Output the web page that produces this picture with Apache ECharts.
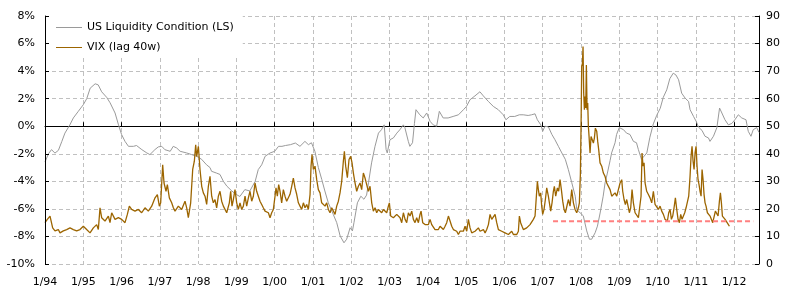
<!DOCTYPE html>
<html><head><meta charset="utf-8">
<script src="https://cdn.jsdelivr.net/npm/echarts@6/dist/echarts.min.js"></script>
<style>html,body{margin:0;padding:0;background:#fff}#c{width:792px;height:302px}</style>
</head><body><div id="c"></div>
<script>
// US Liquidity Condition (%), [decimal year, value]
const liquidity = [
[1994.00,-2.6],[1994.09,-2.0],[1994.17,-1.7],[1994.26,-1.95],[1994.35,-1.75],[1994.44,-1.1],[1994.52,-0.5],[1994.65,0.1],[1994.74,0.6],[1994.87,1.08],
[1995.00,1.56],[1995.09,2.0],[1995.18,2.76],[1995.31,3.08],[1995.39,3.0],[1995.48,2.5],[1995.61,2.1],[1995.70,1.7],[1995.83,0.96],[1995.92,0.1],
[1996.00,-0.6],[1996.09,-1.1],[1996.18,-1.46],[1996.31,-1.46],[1996.39,-1.4],[1996.53,-1.7],[1996.66,-1.94],[1996.74,-2.06],[1996.87,-1.7],[1996.96,-1.5],
[1997.05,-1.46],[1997.13,-1.7],[1997.27,-1.82],[1997.35,-1.46],[1997.44,-1.58],[1997.53,-1.82],[1997.70,-1.94],[1997.83,-2.06],[1997.96,-2.18],
[1998.09,-2.4],[1998.22,-2.8],[1998.31,-3.0],[1998.35,-3.27],[1998.48,-3.4],[1998.57,-3.5],[1998.66,-4.0],[1998.75,-4.35],[1998.88,-4.7],
[1999.00,-4.96],[1999.09,-5.1],[1999.22,-4.6],[1999.35,-4.7],[1999.49,-4.0],[1999.57,-3.15],[1999.66,-2.8],[1999.75,-2.18],[1999.88,-1.94],
[2000.00,-1.82],[2000.10,-1.46],[2000.19,-1.46],[2000.28,-1.4],[2000.41,-1.34],[2000.54,-1.22],[2000.66,-1.46],[2000.79,-1.1],[2000.88,-1.34],[2000.96,-1.2],
[2001.05,-1.82],[2001.14,-3.0],[2001.23,-3.87],[2001.31,-4.7],[2001.40,-5.56],[2001.53,-6.4],[2001.62,-7.0],[2001.71,-7.97],[2001.81,-8.46],[2001.88,-8.2],[2001.97,-7.37],
[2002.03,-7.6],[2002.07,-7.0],[2002.16,-5.56],[2002.25,-5.08],[2002.33,-5.3],[2002.40,-5.0],[2002.45,-4.1],[2002.53,-2.66],[2002.62,-1.46],[2002.71,-0.5],[2002.79,-0.25],[2002.86,0.1],[2002.91,-1.7],[2002.94,-1.94],
[2003.01,-0.98],[2003.10,-0.85],[2003.19,-0.5],[2003.27,-0.25],[2003.36,0.1],[2003.40,-0.1],[2003.49,-1.1],[2003.53,-1.46],[2003.60,-1.2],[2003.65,0.2],[2003.69,1.2],[2003.79,0.83],[2003.88,0.6],[2003.97,0.96],
[2004.06,0.35],[2004.14,0.1],[2004.23,0.0],[2004.30,1.08],[2004.40,0.6],[2004.53,0.6],[2004.66,0.71],[2004.80,0.83],[2004.93,1.2],
[2005.01,1.44],[2005.10,1.92],[2005.23,2.2],[2005.36,2.5],[2005.45,2.2],[2005.58,1.8],[2005.71,1.44],[2005.84,1.2],[2005.97,0.83],
[2006.04,0.47],[2006.14,0.71],[2006.27,0.71],[2006.39,0.83],[2006.49,0.83],[2006.62,0.78],[2006.71,0.83],[2006.80,0.9],[2006.86,0.47],[2006.95,0.1],
[2007.00,-0.37],[2007.06,0.0],[2007.15,-0.05],[2007.24,-0.6],[2007.32,-0.98],[2007.41,-1.46],[2007.50,-1.94],[2007.59,-2.4],[2007.67,-3.15],[2007.76,-4.1],[2007.85,-5.08],[2007.89,-6.04],[2007.98,-6.3],
[2008.06,-6.5],[2008.15,-7.6],[2008.22,-8.2],[2008.28,-8.2],[2008.37,-7.73],[2008.43,-7.25],[2008.50,-6.3],[2008.58,-5.08],[2008.63,-4.1],[2008.69,-3.4],[2008.76,-2.5],[2008.80,-1.94],[2008.89,-1.2],[2008.93,-0.6],
[2009.00,-0.1],[2009.11,-0.25],[2009.19,-0.5],[2009.28,-0.6],[2009.37,-1.1],[2009.45,-1.2],[2009.50,-1.7],[2009.58,-2.4],[2009.63,-2.3],[2009.72,-1.94],[2009.80,-0.8],[2009.89,0.17],[2009.98,0.8],
[2010.07,1.3],[2010.15,2.1],[2010.24,2.64],[2010.32,3.45],[2010.41,3.85],[2010.48,3.72],[2010.55,3.37],[2010.63,2.4],[2010.72,2.04],[2010.81,1.8],[2010.85,1.2],[2010.94,0.71],
[2011.01,0.35],[2011.07,-0.07],[2011.16,-0.3],[2011.24,-0.73],[2011.33,-0.85],[2011.37,-1.1],[2011.46,-0.73],[2011.55,-0.1],[2011.62,1.32],[2011.68,0.96],[2011.76,0.47],[2011.85,0.1],[2011.94,0.2],
[2012.02,0.47],[2012.11,0.83],[2012.20,0.6],[2012.31,0.47],[2012.37,-0.37],[2012.44,-0.73],[2012.50,-0.25],[2012.59,-0.1],[2012.65,-0.45]
];

// VIX lagged 40 weeks, [decimal year, value]
const vix = [
[1994.000,15.0],[1994.026,14.4],[1994.061,16.2],[1994.131,17.4],[1994.200,13.1],[1994.261,12.0],[1994.348,12.5],[1994.392,11.3],[1994.479,12.0],[1994.566,12.5],[1994.653,13.1],[1994.740,12.5],[1994.827,12.0],[1994.914,12.5],
[1995.001,13.7],[1995.045,14.3],[1995.088,12.5],[1995.176,11.3],[1995.263,13.1],[1995.350,14.3],[1995.393,12.5],[1995.437,20.4],[1995.480,16.8],[1995.567,15.6],[1995.655,17.4],[1995.698,15.0],[1995.742,18.6],[1995.829,16.2],[1995.916,16.8],
[1996.003,16.2],[1996.090,15.0],[1996.151,18.0],[1996.203,21.0],[1996.264,19.8],[1996.351,19.2],[1996.438,19.8],[1996.525,18.6],[1996.612,20.4],[1996.699,19.2],[1996.787,21.0],[1996.874,24.0],[1996.935,25.2],[1996.987,21.0],
[1997.022,22.2],[1997.074,36.0],[1997.109,29.4],[1997.161,26.4],[1997.196,28.8],[1997.248,24.0],[1997.309,22.2],[1997.353,20.4],[1997.396,19.2],[1997.483,21.0],[1997.570,19.8],[1997.657,22.8],[1997.701,20.4],[1997.744,16.8],[1997.771,16.2],[1997.805,22.2],[1997.858,34.3],[1997.901,37.3],[1997.936,43.3],[1997.962,39.0],
[1998.006,42.7],[1998.049,34.3],[1998.093,28.2],[1998.136,25.8],[1998.180,24.6],[1998.223,21.6],[1998.267,28.2],[1998.310,31.8],
[1998.354,24.6],[1998.397,22.2],[1998.441,23.4],[1998.484,20.4],[1998.528,24.6],[1998.571,26.4],[1998.615,22.8],[1998.659,21.0],[1998.702,21.6],[1998.746,18.6],[1998.789,18.0],[1998.815,22.2],[1998.850,26.4],[1998.885,21.0],[1998.920,23.4],[1998.963,27.0],
[1999.007,22.2],[1999.050,19.8],[1999.094,22.2],[1999.137,19.8],[1999.181,21.0],[1999.225,24.6],[1999.268,21.0],[1999.312,24.0],[1999.355,26.4],[1999.399,22.8],[1999.442,24.6],[1999.486,29.4],[1999.529,26.4],[1999.573,27.0],[1999.616,22.8],[1999.660,21.6],[1999.703,20.4],[1999.747,19.2],[1999.791,19.8],[1999.834,18.6],[1999.878,16.8],[1999.921,18.6],[1999.965,19.8],
[2000.008,24.6],[2000.034,27.6],[2000.069,24.6],[2000.104,28.8],[2000.139,26.4],[2000.182,22.2],[2000.226,27.0],[2000.269,24.6],[2000.313,22.8],[2000.357,22.2],[2000.400,25.3],[2000.444,28.2],[2000.487,31.2],[2000.531,27.6],[2000.574,25.3],[2000.618,22.2],[2000.661,21.0],[2000.705,19.8],[2000.749,22.2],[2000.792,20.4],[2000.836,21.6],[2000.879,19.8],[2000.923,25.2],[2000.949,35.5],[2000.975,39.7],
[2001.010,34.3],[2001.053,35.5],[2001.097,30.6],[2001.140,27.0],[2001.184,25.8],[2001.227,22.2],[2001.271,22.8],[2001.315,21.0],[2001.358,22.2],[2001.402,19.8],[2001.445,18.6],[2001.489,20.4],[2001.532,19.8],[2001.576,18.0],[2001.619,21.0],[2001.663,22.8],[2001.706,25.8],[2001.750,30.0],[2001.793,37.3],[2001.820,40.9],[2001.854,35.5],[2001.898,31.3],[2001.941,37.9],[2001.985,39.1],
[2002.020,36.7],[2002.055,33.0],[2002.098,29.4],[2002.142,26.4],[2002.185,28.2],[2002.229,29.4],[2002.272,27.0],[2002.316,33.0],[2002.359,31.2],[2002.403,28.8],[2002.446,26.4],[2002.490,28.2],
[2002.534,22.2],[2002.577,19.2],[2002.621,20.4],[2002.664,18.6],[2002.708,19.8],[2002.751,20.4],[2002.795,18.6],[2002.839,19.8],[2002.882,19.2],[2002.926,18.6],[2002.969,21.0],[2002.995,22.2],
[2003.030,17.4],[2003.065,16.8],[2003.100,16.8],[2003.143,17.4],[2003.187,18.0],[2003.230,18.6],[2003.274,16.8],[2003.318,15.0],[2003.361,18.6],[2003.405,16.2],[2003.448,15.0],[2003.492,18.6],[2003.535,17.4],[2003.579,19.2],[2003.622,16.2],[2003.666,15.0],[2003.709,16.8],[2003.753,15.0],[2003.796,18.0],[2003.823,19.2],[2003.866,15.0],[2003.927,14.3],[2003.971,13.7],
[2004.014,14.3],[2004.058,16.2],[2004.101,14.3],[2004.145,13.7],[2004.188,12.5],[2004.232,13.1],[2004.275,12.5],[2004.319,13.7],[2004.363,13.1],[2004.406,12.5],[2004.450,13.7],[2004.493,15.0],[2004.537,17.4],[2004.580,15.6],[2004.624,13.7],[2004.667,12.5],[2004.711,13.1],[2004.754,11.9],[2004.798,10.7],[2004.841,11.9],[2004.885,12.5],[2004.929,11.9],[2004.972,13.7],
[2005.016,11.9],[2005.059,16.2],[2005.103,13.1],[2005.146,11.3],[2005.190,10.7],[2005.233,11.9],[2005.277,12.5],[2005.320,13.1],[2005.364,11.9],[2005.407,11.9],[2005.451,12.5],[2005.495,11.3],[2005.538,12.5],[2005.582,14.3],[2005.625,18.0],[2005.669,16.2],[2005.712,16.8],[2005.756,18.0],[2005.799,15.0],[2005.843,12.5],[2005.886,13.1],[2005.930,11.9],[2005.973,12.5],
[2006.017,11.3],[2006.060,10.7],[2006.104,10.7],[2006.147,11.3],[2006.191,11.9],[2006.235,10.7],[2006.278,11.3],[2006.322,10.7],[2006.365,11.9],[2006.391,17.4],
[2006.426,14.9],[2006.460,13.7],[2006.495,12.5],[2006.539,13.1],[2006.582,13.1],[2006.626,13.7],[2006.669,14.3],[2006.713,14.9],[2006.757,16.2],[2006.800,17.4],[2006.826,22.8],[2006.861,30.0],[2006.887,27.0],[2006.913,24.6],[2006.948,25.8],[2006.974,21.0],
[2007.000,18.0],[2007.035,19.8],[2007.070,23.4],[2007.105,27.6],[2007.148,24.6],[2007.175,22.2],[2007.209,19.2],[2007.244,22.2],[2007.279,26.4],[2007.305,28.2],[2007.340,24.6],[2007.384,27.6],[2007.418,26.4],[2007.453,30.6],[2007.488,27.0],[2007.523,22.8],[2007.558,19.8],[2007.593,18.6],[2007.627,19.2],[2007.671,23.4],[2007.714,21.0],[2007.758,27.0],[2007.802,22.2],[2007.845,19.8],[2007.889,18.6],[2007.932,20.4],[2007.958,22.2],[2007.984,32.4],
[2008.002,50.0],[2008.019,71.6],[2008.037,72.8],[2008.054,78.9],[2008.071,62.0],[2008.089,56.0],[2008.106,60.8],[2008.124,56.6],[2008.141,72.2],[2008.159,56.0],[2008.176,58.4],[2008.193,50.0],[2008.211,46.3],[2008.237,40.3],[2008.263,46.3],[2008.289,46.9],[2008.324,43.9],[2008.350,45.7],[2008.376,49.3],[2008.411,48.2],[2008.437,44.5],[2008.463,41.5],[2008.498,36.7],[2008.542,35.5],[2008.585,33.0],[2008.629,31.8],[2008.672,29.4],[2008.716,28.8],[2008.760,27.0],[2008.803,24.6],[2008.847,25.2],[2008.890,25.8],[2008.934,24.6],[2008.977,27.0],
[2009.021,29.4],[2009.064,30.6],[2009.090,26.4],[2009.125,23.4],[2009.160,21.6],[2009.195,23.4],[2009.230,21.0],[2009.264,18.6],[2009.299,20.4],[2009.334,27.0],[2009.369,22.2],[2009.413,18.6],[2009.456,18.0],[2009.500,16.8],[2009.543,16.2],[2009.569,24.6],[2009.595,40.3],[2009.621,35.5],[2009.648,36.7],[2009.674,29.4],[2009.717,26.4],[2009.761,25.2],[2009.804,24.0],[2009.848,22.2],[2009.891,26.4],[2009.935,21.6],[2009.978,21.0],
[2010.022,19.8],[2010.066,21.0],[2010.109,19.2],[2010.153,18.0],
[2010.196,16.2],[2010.222,16.8],[2010.257,15.6],[2010.292,18.6],[2010.327,19.8],[2010.362,16.2],[2010.396,17.4],[2010.431,20.4],[2010.466,24.0],[2010.501,19.8],[2010.536,16.2],[2010.571,15.0],[2010.605,18.0],[2010.640,16.2],[2010.675,17.4],[2010.710,18.6],[2010.745,20.4],[2010.780,19.8],[2010.814,24.6],[2010.849,31.8],[2010.875,39.0],[2010.901,42.7],[2010.928,37.3],[2010.954,34.3],[2010.980,40.3],
[2011.006,42.7],[2011.032,35.5],[2011.058,30.6],[2011.084,28.8],[2011.110,26.4],[2011.137,24.6],[2011.163,34.3],[2011.189,30.6],[2011.215,25.2],[2011.241,22.2],[2011.267,21.0],[2011.302,18.6],[2011.337,18.6],[2011.372,17.4],[2011.407,18.0],[2011.441,15.0],[2011.476,15.6],[2011.511,19.2],[2011.546,19.8],[2011.581,17.4],[2011.616,22.8],[2011.642,25.8],[2011.668,22.2],[2011.694,17.4],[2011.720,16.8],[2011.764,16.2],[2011.807,15.6],[2011.851,14.3],[2011.877,13.7]
];

// Reference level on the VIX scale
const thresholdYears = [2007.27, 2012.50];
const thresholdValue = 15.5;

const seriesNames = ['US Liquidity Condition (LS)', 'VIX (lag 40w)'];
const xMin = 1994, xMax = 2012.65;

const FONT = 'DejaVu Sans';
const LINE_ICON = 'path://M0,0H26V1H0Z';
const gridLine = {show: true, lineStyle: {color: '#c0c0c0', type: [4, 3], width: 1}};
const chart = echarts.init(document.getElementById('c'), null, {renderer: 'canvas'});
chart.setOption({
  animation: false,
  backgroundColor: '#ffffff',
  grid: {left: 45, right: 33, top: 16, bottom: 38, containLabel: false, outerBoundsMode: 'none'},
  legend: {
    orient: 'vertical', left: 46, top: 15, padding: [7, 9, 3, 10],
    itemWidth: 26, itemHeight: 14, itemGap: 9, backgroundColor: '#ffffff',
    symbolKeepAspect: true,
    textStyle: {fontFamily: FONT, fontSize: 11, color: '#000'},
    data: seriesNames.map(n => ({name: n, icon: LINE_ICON}))
  },
  xAxis: [
    {type: 'value', min: xMin, max: xMax, interval: 1, position: 'bottom',
     axisLine: {show: true, onZero: true, onZeroAxisIndex: 0, lineStyle: {color: '#000', width: 1}},
     axisTick: {show: true, inside: true, length: 4, lineStyle: {color: '#000'}},
     axisLabel: {show: false}, splitLine: {show: false}},
    {type: 'value', min: xMin, max: xMax, interval: 1, position: 'bottom',
     axisLine: {show: false, onZero: false}, axisTick: {show: false},
     axisLabel: {margin: 13, color: '#000', fontFamily: FONT, fontSize: 11,
       formatter: v => Number.isInteger(v) ? '1/' + String(v % 100).padStart(2, '0') : ''},
     splitLine: gridLine}
  ],
  yAxis: [
    {type: 'value', position: 'left', min: -10, max: 8, interval: 2,
     axisLine: {show: false}, axisTick: {show: false},
     axisLabel: {margin: 10, color: '#000', fontFamily: FONT, fontSize: 11, formatter: '{value}%'},
     splitLine: gridLine},
    {type: 'value', position: 'right', min: 0, max: 90, interval: 10,
     axisLine: {show: true, lineStyle: {color: '#000', width: 1}},
     axisTick: {show: true, inside: true, length: 4, lineStyle: {color: '#000'}},
     axisLabel: {margin: 7, color: '#000', fontFamily: FONT, fontSize: 11},
     splitLine: {show: false}},
    {type: 'value', position: 'left', min: -10, max: 8, interval: 2, z: 10,
     axisLine: {show: true, lineStyle: {color: '#000', width: 1}},
     axisTick: {show: true, inside: true, length: 4, lineStyle: {color: '#000'}},
     axisLabel: {show: false}, splitLine: {show: false}}
  ],
  series: [
    {name: seriesNames[0], type: 'line', xAxisIndex: 0, yAxisIndex: 0, data: liquidity,
     symbol: 'none', lineStyle: {color: '#9a9a9a', width: 1}, itemStyle: {color: '#9a9a9a'}, z: 2},
    {name: seriesNames[1], type: 'line', xAxisIndex: 0, yAxisIndex: 1, data: vix,
     symbol: 'none', lineStyle: {color: '#9c6500', width: 1.3}, itemStyle: {color: '#9c6500'}, z: 3},
    {name: 'threshold', type: 'line', xAxisIndex: 0, yAxisIndex: 1,
     data: thresholdYears.map(y => [y, thresholdValue]),
     symbol: 'none', silent: true, lineStyle: {color: '#ff8080', width: 2, type: [5, 3]}, z: 4}
  ]
});
</script></body></html>
